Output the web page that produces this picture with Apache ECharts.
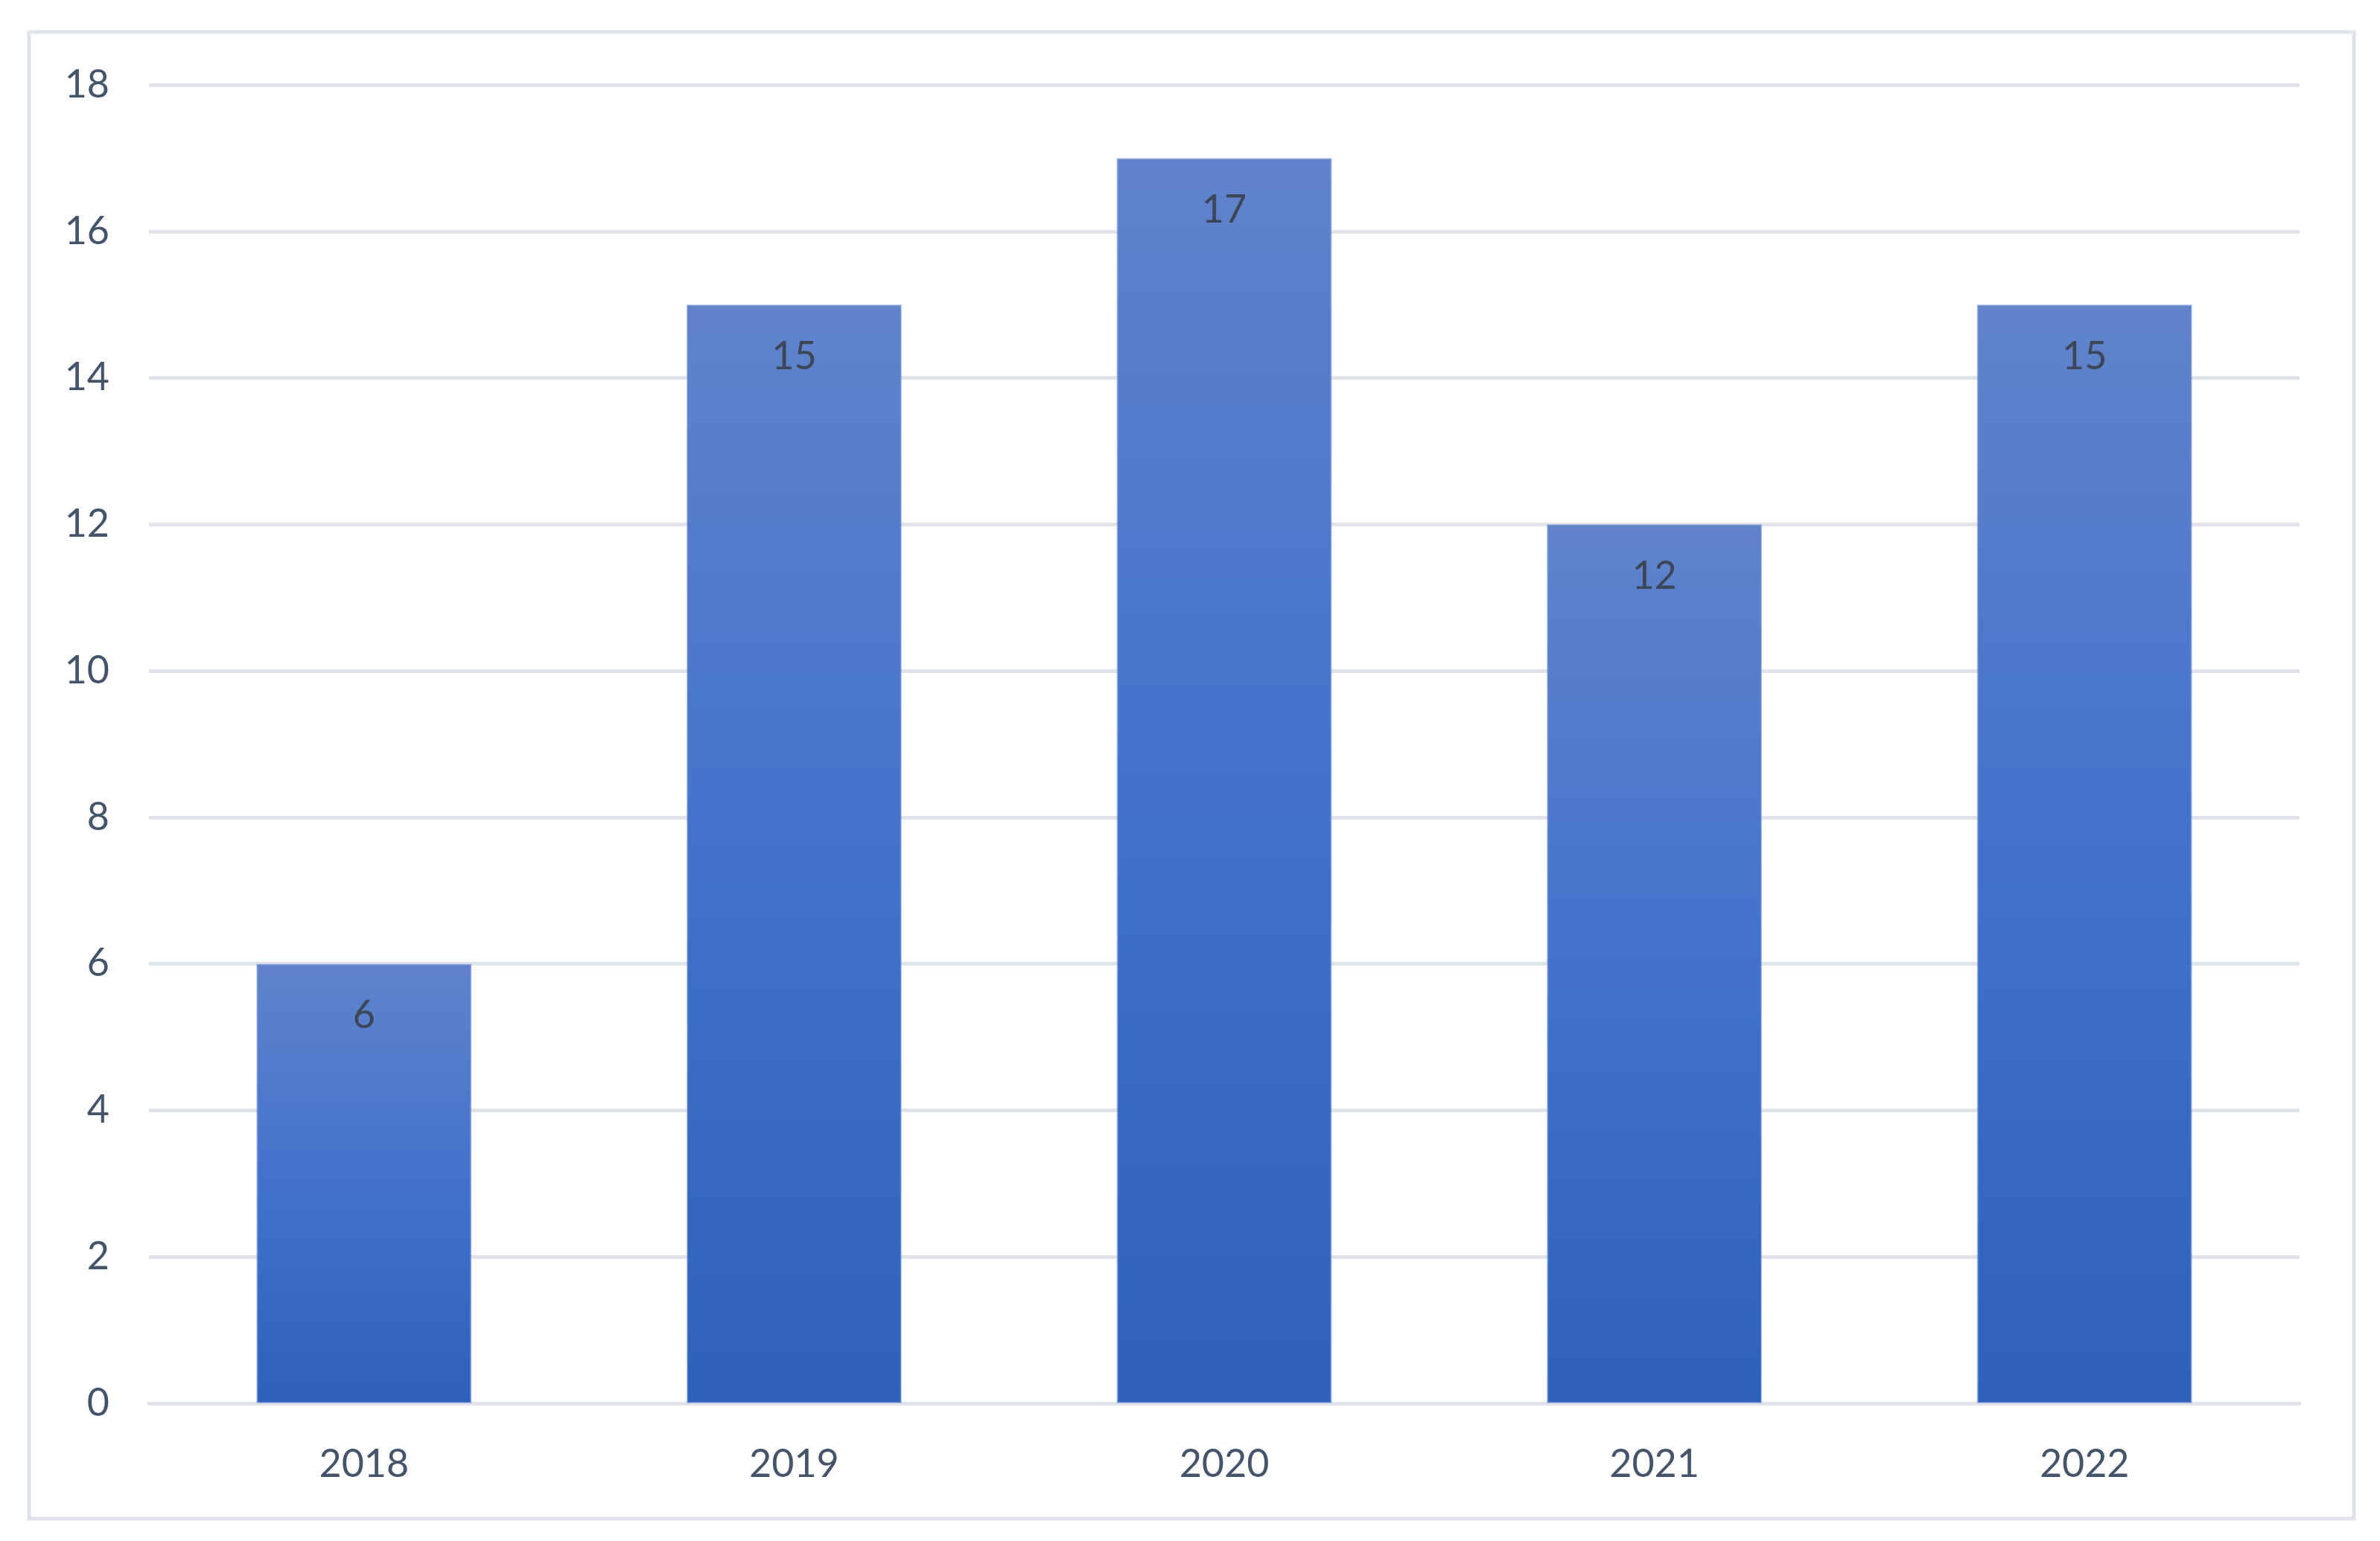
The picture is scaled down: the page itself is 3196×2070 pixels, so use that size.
<!DOCTYPE html>
<html>
<head>
<meta charset="utf-8">
<script src="https://cdn.jsdelivr.net/npm/echarts@6/dist/echarts.min.js"></script>
<style>
html,body{margin:0;padding:0;background:#fff;}
#main{width:3196px;height:2070px;}
</style>
</head>
<body>
<div id="main"></div>
<script>
const categories = ['2018', '2019', '2020', '2021', '2022'];
const values = [6, 15, 17, 12, 15];
const yTicks = [0, 2, 4, 6, 8, 10, 12, 14, 16, 18];

const chart = echarts.init(document.getElementById('main'));
const font = 'Lato, "Open Sans", sans-serif';
chart.setOption({
  backgroundColor: '#ffffff',
  animation: false,
  graphic: [{
    type: 'rect',
    shape: { x: 39, y: 43, width: 3122, height: 1997 },
    style: { fill: 'none', stroke: '#dfe3ea', lineWidth: 5 },
    silent: true
  }],
  grid: { left: 200, right: 108, top: 114, bottom: 185, containLabel: false },
  xAxis: {
    type: 'category',
    data: categories,
    axisLine: { show: true, lineStyle: { color: '#dfe3ea', width: 5 } },
    axisTick: { show: false },
    axisLabel: { color: '#44546a', fontSize: 52, fontFamily: font, margin: 56 }
  },
  yAxis: {
    type: 'value',
    min: yTicks[0],
    max: yTicks[yTicks.length - 1],
    interval: 2,
    axisLine: { show: false },
    axisTick: { show: false },
    splitLine: { lineStyle: { color: '#dfe3ea', width: 5 } },
    axisLabel: { color: '#44546a', fontSize: 52, fontFamily: font, margin: 53 }
  },
  series: [{
    type: 'bar',
    data: values,
    barWidth: '50%',
    itemStyle: {
      color: new echarts.graphic.LinearGradient(0, 0, 0, 1, [
        { offset: 0, color: '#6083cb' },
        { offset: 0.5, color: '#4272cc' },
        { offset: 1, color: '#2d61ba' }
      ]),
      borderColor: 'rgba(120,150,215,0.6)',
      borderWidth: 2
    },
    label: {
      show: true,
      position: 'insideTop',
      distance: 44,
      color: '#3c4656',
      fontSize: 52,
      fontFamily: font
    }
  }]
});
</script>
</body>
</html>
